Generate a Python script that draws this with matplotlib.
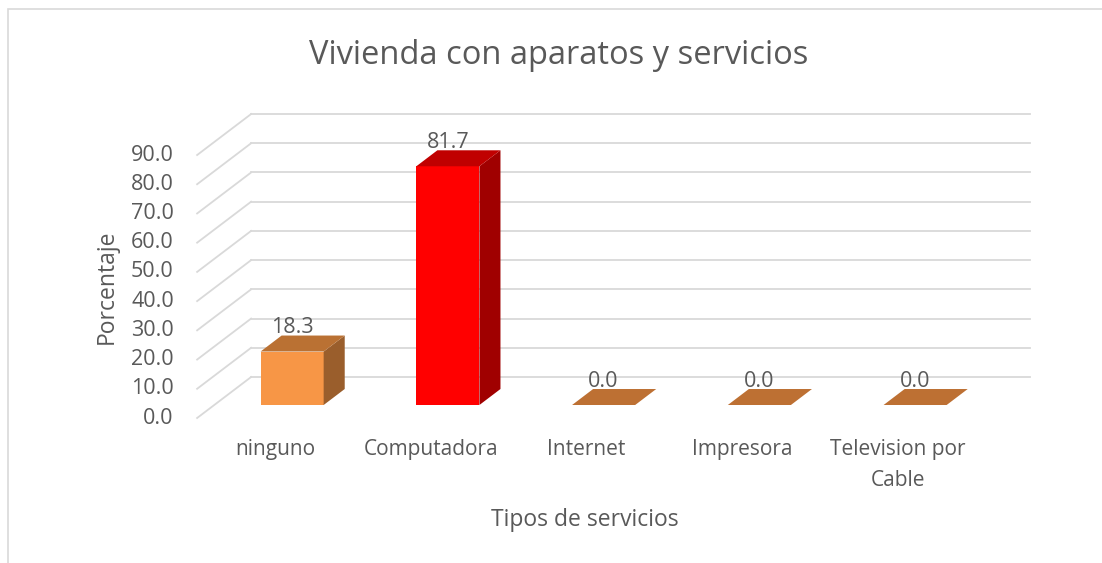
import numpy as np
import matplotlib
matplotlib.use('Agg')
import matplotlib.pyplot as plt
from matplotlib.patches import Polygon, Rectangle

# Data
categorias = ['ninguno', 'Computadora', 'Internet', 'Impresora', 'Television por\nCable']
porcentaje = [18.3, 81.7, 0.0, 0.0, 0.0]
ticks_y = [0, 10, 20, 30, 40, 50, 60, 70, 80, 90]

# Colours per bar: front, top, side
front_col = ['#F79646', '#FF0000', '#F79646', '#F79646', '#F79646']
top_col = ['#BA7133', '#C00000', '#BD7033', '#BD7033', '#BD7033']
side_col = ['#9A5E2C', '#A00000', '#9A5E2C', '#9A5E2C', '#9A5E2C']

txt = '#595959'
grid = '#D9D9D9'
plt.rcParams['font.family'] = ['Open Sans', 'DejaVu Sans']

fig = plt.figure(figsize=(11.02, 5.63), dpi=100)
W, H = 1102, 563

# pixel scale of the data: x = category index, y = value
px_cat = 155.75
px_val = 2.922
x0_px, y0_px = 275, 418
xlim = (-0.6, 5.1)
ylim = (-6, 106)
left = (x0_px + px_cat * xlim[0]) / W
right = (x0_px + px_cat * xlim[1]) / W
bottom = (H - (y0_px - px_val * ylim[0])) / H
top = (H - (y0_px - px_val * ylim[1])) / H
ax = fig.add_axes([left, bottom, right - left, top - bottom])
ax.set_xlim(*xlim)
ax.set_ylim(*ylim)
ax.axis('off')

# depth of the 3D box, in data units
Dx = 54 / px_cat
Dy = 41 / px_val
n = len(categorias)
xl, xr = -0.5, n - 0.5

# gridlines: side wall diagonals and back wall horizontals
for v in ticks_y:
    ax.plot([xl, xl + Dx], [v, v + Dy], color=grid, lw=1.3, zorder=1)
    ax.plot([xl + Dx, xr + Dx], [v + Dy, v + Dy], color=grid, lw=1.3, zorder=1)
    ax.text(xl - 0.15, v, '%.1f' % v, ha='right', va='center', fontsize=15.5, color=txt)

# 3D bars
w = 0.405
f0, f1 = 0.317, 0.707
for i, v in enumerate(porcentaje):
    cx = i + f0 * Dx
    a, b = cx - w / 2, cx + w / 2
    yb = f0 * Dy
    yt = v + f0 * Dy
    ddx = (f1 - f0) * Dx
    ddy = (f1 - f0) * Dy
    if v > 0:
        ax.add_patch(Polygon([(a, yb), (b, yb), (b, yt), (a, yt)], closed=True,
                             facecolor=front_col[i], edgecolor='none', zorder=3))
        ax.add_patch(Polygon([(b, yb), (b + ddx, yb + ddy), (b + ddx, yt + ddy), (b, yt)], closed=True,
                             facecolor=side_col[i], edgecolor='none', zorder=3))
    ax.add_patch(Polygon([(a, yt), (b, yt), (b + ddx, yt + ddy), (a + ddx, yt + ddy)], closed=True,
                         facecolor=top_col[i], edgecolor='none', zorder=3))
    ax.annotate('%.1f' % v, (cx, yt + ddy), xytext=(0, 8), textcoords='offset pixels',
                ha='center', va='center', fontsize=15.5, color=txt, zorder=4)

# category labels
for i, c in enumerate(categorias):
    ax.annotate(c, (i, 0), xytext=(0, -21), textcoords='offset pixels',
                ha='center', va='top', fontsize=15, color=txt, linespacing=1.65)

fig.text(559 / W, 1 - 56 / H, 'Vivienda con aparatos y servicios', ha='center', va='center',
         fontsize=23.5, color=txt)
fig.text(585 / W, 1 - 520 / H, 'Tipos de servicios', ha='center', va='center',
         fontsize=16.5, color=txt)
fig.text(107 / W, 1 - 287 / H, 'Porcentaje', ha='center', va='center', rotation=90,
         fontsize=16.5, color=txt)

# chart border
fig.add_artist(Rectangle((8 / W, -0.1), 1.2, 1.1 - 9 / H, transform=fig.transFigure,
                         facecolor='none', edgecolor=grid, lw=1.2))

fig.savefig('out.png', dpi=100)
